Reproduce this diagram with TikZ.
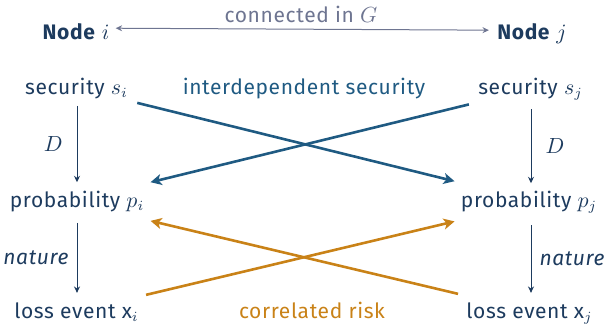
\documentclass[tikz,border=0pt]{standalone}
\usepackage{fontspec}
\setmainfont{Fira Sans}[LetterSpace=3]
\usetikzlibrary{arrows.meta,calc}
\definecolor{navy}{HTML}{1D3B5E}
\definecolor{iblue}{HTML}{1F5A82}
\definecolor{corange}{HTML}{C98217}
\definecolor{cgray}{HTML}{6E7591}
\begin{document}
\begin{tikzpicture}[x=0.5pt,y=-0.5pt,
  font=\fontsize{10.5}{12.5}\selectfont,
  txt/.style={inner sep=0pt, anchor=base, text=navy},
  thinarrow/.style={draw=navy, line width=0.5pt, -{Stealth[length=3.2pt,width=3pt]}},
  bluearrow/.style={draw=iblue, line width=1.3pt, -{Stealth[length=5.5pt,width=5.5pt,inset=1.5pt]}},
  orangearrow/.style={draw=corange, line width=1.3pt, -{Stealth[length=5.5pt,width=5.5pt,inset=1.5pt]}},
  grayarrow/.style={draw=cgray, line width=0.5pt, {Stealth[length=3.2pt,width=3pt]}-{Stealth[length=3.2pt,width=3pt]}}
]
\useasboundingbox (0,0) rectangle (607,323);
% top row
\node[txt] (ni) at (76,39) {\textbf{Node} $i$};
\node[txt] (nj) at (532,39) {\textbf{Node} $j$};
\node[txt, text=cgray] (conn) at (301,22) {connected in $G$};
\draw[grayarrow] ($(ni.east)+(6,-3)$) -- ($(nj.west)+(-8,-3)$);
% column nodes
\node[txt] (si) at (76.5,94) {security $s_i$};
\node[txt] (sj) at (530.5,94) {security $s_j$};
\node[txt] (pi) at (77,207) {probability $p_i$};
\node[txt] (pj) at (529,207) {probability $p_j$};
\node[txt] (xi) at (76.5,318) {loss event x$_i$};
\node[txt] (xj) at (529.5,318) {loss event x$_j$};
% labels
\node[txt, text=iblue] (ids) at (304,94) {interdependent security};
\node[txt, text=corange] (cr) at (312,318) {correlated risk};
% vertical arrows
\draw[thinarrow] ($(si.south)+(0.5,7)$) -- node[left=7pt, text=navy, inner sep=0pt] (dl) {$D$} ($(pi.north)+(0,-8)$);
\draw[thinarrow] ($(sj.south)+(0.5,9)$) -- node[right=7pt, text=navy, inner sep=0pt] (dr) {$D$} ($(pj.north)+(2,-7)$);
\draw[thinarrow] ($(pi.south)+(0,11)$) -- node[left=4pt, text=navy, inner sep=0pt] (nl) {\itshape nature} ($(xi.north)+(0.5,-9)$);
\draw[thinarrow] ($(pj.south)+(2,12)$) -- node[right=4pt, text=navy, inner sep=0pt] (nr) {\itshape nature} ($(xj.north)+(1.5,-9)$);
% interdependent security arrows
\draw[bluearrow] ($(si.south east)+(9,4)$) -- ($(pj.north west)+(-6,-9)$);
\draw[bluearrow] ($(sj.south west)+(-9,4)$) -- ($(pi.north east)+(6,-8)$);
% correlated risk arrows
\draw[orangearrow] ($(xi.north east)+(7,-7)$) -- ($(pj.south west)+(-6,8)$);
\draw[orangearrow] ($(xj.north west)+(-8,-8)$) -- ($(pi.south east)+(6,9)$);
\end{tikzpicture}
\end{document}
